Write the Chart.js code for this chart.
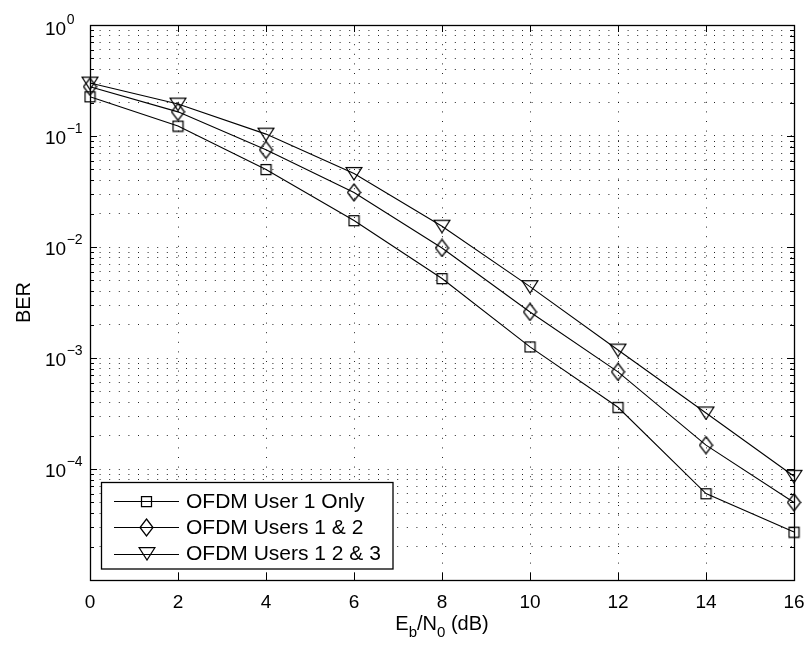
<!DOCTYPE html>
<html>
<head>
<meta charset="utf-8">
<script src="https://cdn.jsdelivr.net/npm/chart.js@4.4.1/dist/chart.umd.min.js"></script>
<style>
  html, body { margin: 0; padding: 0; background: #fff; }
  canvas { display: block; }
</style>
</head>
<body>
<canvas id="ber" width="809" height="645"></canvas>
<script>
// Eb/N0 sweep (dB)
const ebn0 = [0, 2, 4, 6, 8, 10, 12, 14, 16];

// Simulated bit error rate for each user configuration
const berUser1    = [0.226, 0.123, 0.050, 0.0173, 0.0052, 0.00126, 3.6e-4, 6.0e-5, 2.7e-5];
const berUsers12  = [0.278, 0.165, 0.075, 0.031, 0.0098, 0.0026, 7.5e-4, 1.64e-4, 5.0e-5];
const berUsers123 = [0.300, 0.194, 0.104, 0.046, 0.0154, 0.0044, 1.18e-3, 3.2e-4, 8.6e-5];

const seriesLabels = ['OFDM User 1 Only', 'OFDM Users 1 & 2', 'OFDM Users 1 2 & 3'];

// Axis ticks
const xTicks = [0, 2, 4, 6, 8, 10, 12, 14, 16];
const yDecades = [-5, -4, -3, -2, -1, 0];
const yLabelDecades = [-4, -3, -2, -1, 0];
const yMinorSteps = [2, 3, 4, 5, 6, 7, 8, 9];

const FONT = '"Liberation Sans", Arial, Helvetica, sans-serif';

// All log-grid positions: each decade plus its 2..9 subdivisions
const yGridValues = [];
yDecades.forEach((e, i) => {
  yGridValues.push(Math.pow(10, e));
  if (i < yDecades.length - 1) yMinorSteps.forEach(m => yGridValues.push(m * Math.pow(10, e)));
});

// Open (unfilled) marker glyphs
function markerCanvas(w, h, path) {
  const c = document.createElement('canvas');
  c.width = w; c.height = h;
  const g = c.getContext('2d');
  g.strokeStyle = '#000';
  g.lineWidth = 1.25;
  g.beginPath();
  path(g);
  g.closePath();
  g.stroke();
  return c;
}
const squareMark = markerCanvas(13, 13, g => g.rect(1.5, 1.5, 10, 10));
const diamondMark = markerCanvas(15, 19, g => {
  g.moveTo(7.5, 1); g.lineTo(14, 9.5); g.lineTo(7.5, 18); g.lineTo(1, 9.5);
});
const triangleMark = markerCanvas(18, 15, g => {
  g.moveTo(1, 1.5); g.lineTo(17, 1.5); g.lineTo(9, 14);
});

function series(label, values, mark) {
  return {
    label,
    data: ebn0.map((x, i) => ({ x, y: values[i] })),
    borderColor: '#000',
    borderWidth: 1.1,
    pointStyle: mark,
    pointRadius: 7,
    pointBorderColor: '#000',
    pointBackgroundColor: 'transparent',
    tension: 0,
    clip: false
  };
}

// Frame, inward tick marks, tick labels, axis titles and legend box
const axesDecor = {
  id: 'axesDecor',
  afterDatasetsDraw(chart) {
    const ctx = chart.ctx;
    const a = chart.chartArea;
    const xs = chart.scales.x, ys = chart.scales.y;
    ctx.save();
    ctx.strokeStyle = '#000';
    ctx.lineWidth = 1;
    ctx.beginPath();
    // x ticks on bottom and top edges
    xTicks.forEach(v => {
      const px = Math.round(xs.getPixelForValue(v)) + 0.5;
      ctx.moveTo(px, a.bottom); ctx.lineTo(px, a.bottom - 7);
      ctx.moveTo(px, a.top); ctx.lineTo(px, a.top + 7);
    });
    // y ticks on left and right edges
    yGridValues.forEach(v => {
      const py = Math.round(ys.getPixelForValue(v)) + 0.5;
      const isDecade = Math.abs(Math.log10(v) - Math.round(Math.log10(v))) < 1e-9;
      const len = isDecade ? 7 : 4;
      ctx.moveTo(a.left, py); ctx.lineTo(a.left + len, py);
      ctx.moveTo(a.right, py); ctx.lineTo(a.right - len, py);
    });
    ctx.stroke();
    ctx.lineWidth = 1.3;
    ctx.strokeRect(a.left + 0.5, a.top + 0.5, a.right - a.left, a.bottom - a.top);
    ctx.restore();
  },
  afterDraw(chart) {
    const ctx = chart.ctx;
    const a = chart.chartArea;
    const xs = chart.scales.x, ys = chart.scales.y;
    ctx.save();
    ctx.fillStyle = '#000';

    // x tick labels
    ctx.font = '19px ' + FONT;
    ctx.textAlign = 'center';
    ctx.textBaseline = 'alphabetic';
    xTicks.forEach(v => ctx.fillText(String(v), xs.getPixelForValue(v), a.bottom + 27.5));

    // y tick labels: 10 with superscript exponent
    ctx.textAlign = 'left';
    yLabelDecades.forEach(e => {
      const py = ys.getPixelForValue(Math.pow(10, e));
      const base = Math.max(py + 7.5, a.top + 9.5);
      ctx.font = '19px ' + FONT;
      ctx.fillText('10', 45, base);
      const w = ctx.measureText('10').width;
      ctx.font = '14px ' + FONT;
      ctx.fillText(e === 0 ? '0' : '\u2212' + Math.abs(e), 45 + w + 0.5, base - 10.5);
    });

    // y axis title
    ctx.save();
    ctx.translate(30, (a.top + a.bottom) / 2);
    ctx.rotate(-Math.PI / 2);
    ctx.font = '20px ' + FONT;
    ctx.textAlign = 'center';
    ctx.fillText('BER', 0, 0);
    ctx.restore();

    // x axis title: E_b/N_0 (dB)
    const parts = [
      { t: 'E', sub: false }, { t: 'b', sub: true }, { t: '/N', sub: false },
      { t: '0', sub: true }, { t: ' (dB)', sub: false }
    ];
    const mainFont = '20px ' + FONT, subFont = '15px ' + FONT;
    let total = 0;
    parts.forEach(p => { ctx.font = p.sub ? subFont : mainFont; p.w = ctx.measureText(p.t).width; total += p.w; });
    let x = (a.left + a.right) / 2 - total / 2;
    const baseY = a.bottom + 50;
    ctx.textAlign = 'left';
    parts.forEach(p => {
      ctx.font = p.sub ? subFont : mainFont;
      ctx.fillText(p.t, x, p.sub ? baseY + 7 : baseY);
      x += p.w;
    });

    // legend box
    const lx = 101.5, ly = 482.5, lw = 291.5, lh = 86.5;
    ctx.fillStyle = '#fff';
    ctx.fillRect(lx, ly, lw, lh);
    ctx.strokeStyle = '#000';
    ctx.lineWidth = 1.3;
    ctx.strokeRect(lx, ly, lw, lh);
    ctx.font = '21px ' + FONT;
    ctx.fillStyle = '#000';
    ctx.textAlign = 'left';
    chart.data.datasets.forEach((ds, i) => {
      const ry = 501 + i * 26.3;
      ctx.lineWidth = 1.1;
      ctx.beginPath();
      ctx.moveTo(114, Math.round(ry) + 0.5);
      ctx.lineTo(179, Math.round(ry) + 0.5);
      ctx.stroke();
      const m = ds.pointStyle;
      ctx.drawImage(m, Math.round(146.5 - m.width / 2), Math.round(ry - m.height / 2));
      ctx.fillText(ds.label, 186, ry + 6.5);
    });
    ctx.restore();
  }
};

const gridDash = [1, 8.6];

new Chart(document.getElementById('ber'), {
  type: 'line',
  data: {
    datasets: [
      series(seriesLabels[0], berUser1, squareMark),
      series(seriesLabels[1], berUsers12, diamondMark),
      series(seriesLabels[2], berUsers123, triangleMark)
    ]
  },
  options: {
    responsive: false,
    animation: false,
    layout: { padding: { left: 0, top: 25, right: 15, bottom: 0 } },
    plugins: { legend: { display: false }, tooltip: { enabled: false } },
    scales: {
      x: {
        type: 'linear',
        min: 0,
        max: 16,
        afterBuildTicks: s => { s.ticks = xTicks.map(v => ({ value: v })); },
        afterFit: s => { s.height = 65; },
        ticks: { display: false },
        grid: { color: 'rgba(0,0,0,0.85)', lineWidth: 1, drawTicks: false },
        border: { display: false, dash: gridDash }
      },
      y: {
        type: 'logarithmic',
        min: 1e-5,
        max: 1,
        afterBuildTicks: s => { s.ticks = yGridValues.map(v => ({ value: v })); },
        afterFit: s => { s.width = 90; },
        ticks: { display: false },
        grid: { color: 'rgba(0,0,0,0.85)', lineWidth: 1, drawTicks: false },
        border: { display: false, dash: gridDash }
      }
    }
  },
  plugins: [axesDecor]
});
</script>
</body>
</html>
